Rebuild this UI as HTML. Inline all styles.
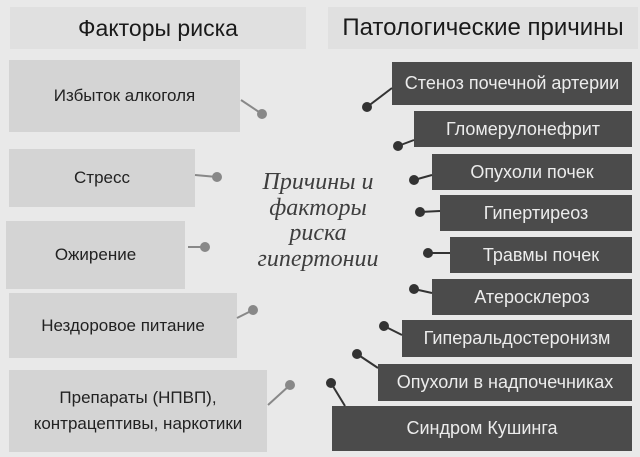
<!DOCTYPE html>
<html><head><meta charset="utf-8"><style>
body{margin:0;width:640px;height:457px;background:#e9e9e9;position:relative;overflow:hidden;font-family:"Liberation Sans","DejaVu Sans",sans-serif}
.b{position:absolute;display:flex;align-items:center;justify-content:center;text-align:center;box-sizing:border-box;white-space:nowrap}
.h{background:#e0e0e0;color:#1a1a1a;font-size:23px}
.h2{font-size:24px}
.l{background:#d4d4d4;color:#222;font-size:17px;line-height:26px}
.r{background:#4b4b4b;color:#ececec;font-size:18px}
.c{position:absolute;left:218px;width:200px;top:170px;text-align:center;font-style:italic;font-size:24px;line-height:25.5px;color:#3e3e3e;font-family:"Liberation Serif","DejaVu Serif",serif}
svg{position:absolute;left:0;top:0}
</style></head><body>
<div class="b h" style="left:10px;top:7px;width:296px;height:42px">Факторы риска</div>
<div class="b h h2" style="left:328px;top:7px;width:310px;height:42px">Патологические причины</div>

<div class="b l" style="left:9px;top:60px;width:231px;height:72px">Избыток алкоголя</div>
<div class="b l" style="left:9px;top:149px;width:186px;height:58px">Стресс</div>
<div class="b l" style="left:6px;top:221px;width:179px;height:68px">Ожирение</div>
<div class="b l" style="left:9px;top:293px;width:228px;height:65px">Нездоровое питание</div>
<div class="b l" style="left:9px;top:370px;width:258px;height:82px">Препараты (НПВП),<br>контрацептивы, наркотики</div>

<div class="b r" style="left:392px;top:62px;width:240px;height:43px">Стеноз почечной артерии</div>
<div class="b r" style="left:414px;top:111px;width:218px;height:36px">Гломерулонефрит</div>
<div class="b r" style="left:432px;top:154px;width:200px;height:36px">Опухоли почек</div>
<div class="b r" style="left:440px;top:195px;width:192px;height:36px">Гипертиреоз</div>
<div class="b r" style="left:450px;top:237px;width:182px;height:36px">Травмы почек</div>
<div class="b r" style="left:432px;top:279px;width:200px;height:36px">Атеросклероз</div>
<div class="b r" style="left:402px;top:320px;width:230px;height:37px">Гиперальдостеронизм</div>
<div class="b r" style="left:378px;top:364px;width:254px;height:37px">Опухоли в надпочечниках</div>
<div class="b r" style="left:332px;top:406px;width:300px;height:45px">Синдром Кушинга</div>

<div class="c">Причины и<br>факторы<br>риска<br>гипертонии</div>

<svg width="640" height="457">
<g stroke="#888" stroke-width="2" fill="#888">
<line x1="241" y1="100" x2="262" y2="114"/><circle cx="262" cy="114" r="4"/>
<line x1="195" y1="175" x2="217" y2="177"/><circle cx="217" cy="177" r="4"/>
<line x1="188" y1="247" x2="205" y2="247"/><circle cx="205" cy="247" r="4"/>
<line x1="237" y1="318" x2="253" y2="310"/><circle cx="253" cy="310" r="4"/>
<line x1="268" y1="405" x2="290" y2="385"/><circle cx="290" cy="385" r="4"/>
</g>
<g stroke="#333" stroke-width="2" fill="#333">
<line x1="392" y1="88" x2="367" y2="107"/><circle cx="367" cy="107" r="4"/>
<line x1="414" y1="140" x2="398" y2="146"/><circle cx="398" cy="146" r="4"/>
<line x1="432" y1="175" x2="414" y2="180"/><circle cx="414" cy="180" r="4"/>
<line x1="440" y1="211" x2="420" y2="212"/><circle cx="420" cy="212" r="4"/>
<line x1="450" y1="253" x2="428" y2="253"/><circle cx="428" cy="253" r="4"/>
<line x1="432" y1="293" x2="414" y2="289"/><circle cx="414" cy="289" r="4"/>
<line x1="402" y1="335" x2="384" y2="326"/><circle cx="384" cy="326" r="4"/>
<line x1="378" y1="368" x2="357" y2="354"/><circle cx="357" cy="354" r="4"/>
<line x1="345" y1="406" x2="331" y2="383"/><circle cx="331" cy="383" r="4"/>
</g>
</svg>
</body></html>
